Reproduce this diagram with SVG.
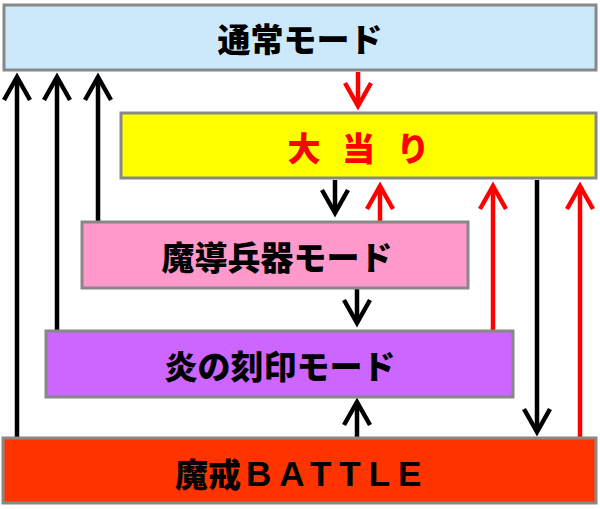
<svg xmlns="http://www.w3.org/2000/svg" width="600" height="509" viewBox="0 0 600 509">
<style>
.box{stroke:#888888;stroke-width:3}
.lbl{font-family:"Noto Sans CJK JP","Noto Sans",sans-serif;font-weight:900;font-size:33px;text-anchor:middle;dominant-baseline:central}
.lat{font-family:"Liberation Sans","Noto Sans CJK JP",sans-serif;font-weight:700;font-size:35px}
.k{stroke:#000;stroke-width:4.5;fill:none;marker-end:url(#ak)}
.r{stroke:#ff0000;stroke-width:4.5;fill:none;marker-end:url(#ar)}
</style>
<defs>
<marker id="ak" markerUnits="userSpaceOnUse" orient="auto" markerWidth="40" markerHeight="40" refX="0" refY="0" viewBox="-30 -20 40 40" overflow="visible">
<path d="M-23,-13 L0,0 L-23,13" fill="none" stroke="#000" stroke-width="4.5"/>
</marker>
<marker id="ar" markerUnits="userSpaceOnUse" orient="auto" markerWidth="40" markerHeight="40" refX="0" refY="0" viewBox="-30 -20 40 40" overflow="visible">
<path d="M-23,-13 L0,0 L-23,13" fill="none" stroke="#ff0000" stroke-width="4.5"/>
</marker>
</defs>
<rect width="600" height="509" fill="#ffffff"/>
<g id="connectors">
<line class="k" x1="17" y1="437" x2="17" y2="77"/>
<line class="k" x1="57" y1="330" x2="57" y2="77"/>
<line class="k" x1="98" y1="221" x2="98" y2="77"/>
<line class="r" x1="358" y1="72" x2="358" y2="106"/>
<line class="k" x1="335" y1="180" x2="335" y2="213"/>
<line class="r" x1="380" y1="221" x2="380" y2="186"/>
<line class="r" x1="493" y1="330" x2="493" y2="186"/>
<line class="k" x1="537" y1="180" x2="537" y2="432"/>
<line class="r" x1="580" y1="437" x2="580" y2="186"/>
<line class="k" x1="357" y1="289" x2="357" y2="323"/>
<line class="k" x1="357" y1="437" x2="357" y2="402"/>
</g>
<g id="normal">
<rect class="box" x="4" y="5" width="592" height="65" fill="#cce9fc"/>
<text class="lbl" x="300" y="38" fill="#000">通常モード</text>
</g>
<g id="oatari">
<rect class="box" x="121" y="113" width="475" height="65" fill="#ffff00"/>
<text class="lbl" x="362" y="147" fill="#ff0000" letter-spacing="7">大 当 り</text>
</g>
<g id="madou">
<rect class="box" x="82" y="222" width="386" height="66" fill="#ff99cc"/>
<text class="lbl" x="277" y="256" fill="#000">魔導兵器モード</text>
</g>
<g id="honoo">
<rect class="box" x="46" y="331" width="467" height="66" fill="#cc66ff"/>
<text class="lbl" x="280" y="365" fill="#000">炎の刻印モード</text>
</g>
<g id="battle">
<rect class="box" x="3" y="438" width="593" height="65" fill="#ff3300"/>
<text class="lbl" x="175" y="473" fill="#000" style="text-anchor:start">魔戒<tspan class="lat" dx="5" letter-spacing="8">BATTLE</tspan></text>
</g>
</svg>
